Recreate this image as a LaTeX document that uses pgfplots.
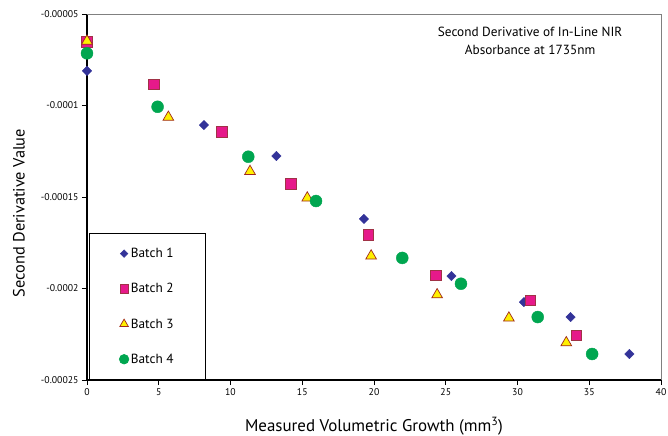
\documentclass[border=0pt]{standalone}
\usepackage{pgfplots}
\pgfplotsset{compat=1.18}
\usepackage{fontspec}
\setmainfont{PT Sans}
\definecolor{bnavy}{RGB}{51,51,153}
\definecolor{bmag}{RGB}{230,25,138}
\definecolor{bmagedge}{RGB}{160,50,70}
\definecolor{byel}{RGB}{255,240,0}
\definecolor{byeledge}{RGB}{160,40,30}
\definecolor{bgreen}{RGB}{0,166,80}
\begin{document}
\begin{tikzpicture}
\begin{axis}[
  at={(0,0)}, anchor=south west,
  scale only axis, width=574bp, height=366bp,
  xmin=0, xmax=40, ymin=-0.00025, ymax=-0.00005,
  axis lines=left, axis line style={-, black, line width=1.3bp},
  xtick={0,5,...,40},
  ytick={-0.00025,-0.0002,-0.00015,-0.0001,-0.00005},
  yticklabels={-0.00025,-0.0002,-0.00015,-0.0001,-0.00005},
  scaled y ticks=false,
  tick align=outside, major tick length=5bp,
  tick style={black, line width=0.8bp},
  tick label style={font=\fontsize{9.8}{12}\selectfont},
  /pgf/number format/assume math mode=true,
  xlabel={Measured Volumetric Growth (mm\textsuperscript{3})},
  ylabel={Second Derivative Value},
  every axis x label/.style={at={(axis description cs:0.5,-0.127)}, anchor=center, font=\fontsize{17}{20}\selectfont},
  every axis y label/.style={at={(axis description cs:-0.1185,0.456)}, rotate=90, anchor=center, font=\fontsize{16.4}{19}\selectfont},
  clip=false,
  legend image code/.code={\draw[every mark/.append style={scale=0.8}] plot coordinates {(0bp,0bp)};},
  legend cell align=left,
  legend style={at={(axis description cs:0.0035,0.0014)}, anchor=south west,
    draw=black, line width=0.6bp, inner xsep=30bp, inner ysep=12.5bp,
    row sep=20.3bp, font=\fontsize{13.3}{15}\selectfont},
]
\draw[gray, line width=0.9bp] (rel axis cs:0,1) -- (rel axis cs:1,1) -- (rel axis cs:1,0);
\addplot[only marks, mark=square*, mark size=3.3bp, mark options={rotate=45, fill=bnavy, draw=bnavy}]
 coordinates {(0,-0.0000811) (8.15,-0.0001107) (13.2,-0.0001276) (19.3,-0.000162) (25.4,-0.0001932) (30.45,-0.0002074) (33.7,-0.0002156) (37.8,-0.0002358)};
\addlegendentry{Batch 1\hspace{5bp}}
\addplot[only marks, mark=square*, mark size=5.3bp, mark options={fill=bmag, draw=bmagedge, line width=0.6bp}]
 coordinates {(0,-0.0000651) (4.67,-0.0000884) (9.39,-0.0001143) (14.2,-0.0001427) (19.6,-0.0001706) (24.3,-0.0001928) (30.9,-0.0002065) (34.1,-0.0002256)};
\addlegendentry{Batch 2}
\addplot[only marks, mark=triangle*, mark size=6.2bp, mark options={fill=byel, draw=byeledge, line width=0.7bp}]
 coordinates {(0,-0.0000648) (5.67,-0.0001064) (11.36,-0.000136) (15.35,-0.0001505) (19.8,-0.0001822) (24.4,-0.0002034) (29.4,-0.0002161) (33.4,-0.0002296)};
\addlegendentry{Batch 3}
\addplot[only marks, mark=*, mark size=6bp, mark options={fill=bgreen, draw=bgreen}]
 coordinates {(0,-0.0000715) (4.92,-0.0001007) (11.24,-0.000128) (15.96,-0.0001522) (21.97,-0.0001833) (26.06,-0.0001974) (31.41,-0.0002156) (35.2,-0.0002358)};
\addlegendentry{Batch 4}
\node[align=center, font=\fontsize{13.3}{18}\selectfont] at (rel axis cs:0.772,0.9265) {Second Derivative of In-Line NIR\\Absorbance at 1735nm};
\end{axis}
\pgfresetboundingbox
\useasboundingbox (-87bp,-56bp) rectangle (581bp,380bp);
\end{tikzpicture}
\end{document}
